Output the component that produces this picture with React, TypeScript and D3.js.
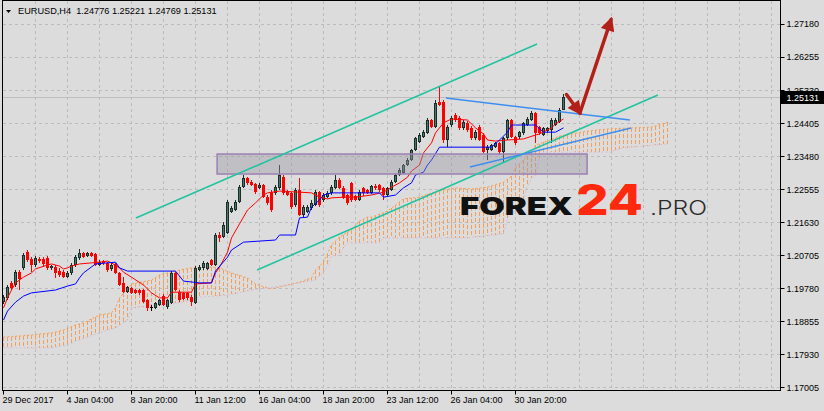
import * as d3 from 'd3';
import React from 'react';

const width = 824;
const height = 411;

const header = 'EURUSD,H4  1.24776 1.25221 1.24769 1.25131';
const lastPrice = 1.25131;

const priceTicks = [1.2718, 1.26255, 1.2533, 1.24405, 1.2348, 1.22555, 1.2163, 1.20705, 1.1978, 1.18855, 1.1793, 1.17005];
const timeLabels = ['29 Dec 2017', '4 Jan 04:00', '8 Jan 20:00', '11 Jan 12:00', '16 Jan 04:00', '18 Jan 20:00', '23 Jan 12:00', '26 Jan 04:00', '30 Jan 20:00'];
const timeLabelBars = [0, 16, 32, 48, 64, 80, 96, 112, 128];

// H4 bars: [open, high, low, close]
const ohlc: number[][] = [
	[1.1940, 1.1960, 1.1935, 1.1954], [1.1952, 1.1988, 1.1946, 1.1982], [1.1994, 1.1999, 1.1974, 1.1980], [1.1988, 1.2030, 1.1982, 1.2024],
	[1.2024, 1.2030, 1.1974, 1.2005], [1.2036, 1.2078, 1.2030, 1.2072], [1.2080, 1.2086, 1.2052, 1.2058], [1.2061, 1.2066, 1.2024, 1.2044],
	[1.2044, 1.2069, 1.2038, 1.2064], [1.2061, 1.2066, 1.2050, 1.2055], [1.2061, 1.2066, 1.2038, 1.2047], [1.2064, 1.2069, 1.2030, 1.2036],
	[1.2036, 1.2044, 1.2030, 1.2041], [1.2038, 1.2044, 1.2008, 1.2022], [1.2027, 1.2036, 1.2010, 1.2016], [1.2024, 1.2030, 1.2008, 1.2010],
	[1.2010, 1.2027, 1.2008, 1.2022], [1.2022, 1.2050, 1.2016, 1.2044], [1.2044, 1.2072, 1.2038, 1.2066], [1.2064, 1.2089, 1.2058, 1.2078],
	[1.2078, 1.2080, 1.2064, 1.2066], [1.2069, 1.2080, 1.2066, 1.2078], [1.2078, 1.2080, 1.2066, 1.2069], [1.2075, 1.2078, 1.2041, 1.2044],
	[1.2044, 1.2058, 1.2041, 1.2052], [1.2055, 1.2058, 1.2044, 1.2050], [1.2050, 1.2052, 1.2024, 1.2030], [1.2033, 1.2050, 1.2027, 1.2044],
	[1.2047, 1.2050, 1.2019, 1.2022], [1.2022, 1.2024, 1.1985, 1.1988], [1.1994, 1.2010, 1.1966, 1.1968], [1.1968, 1.1985, 1.1966, 1.1982],
	[1.1980, 1.1982, 1.1963, 1.1966], [1.1974, 1.1977, 1.1963, 1.1966], [1.1974, 1.1977, 1.1960, 1.1966], [1.1974, 1.1977, 1.1938, 1.1940],
	[1.1946, 1.1949, 1.1915, 1.1924], [1.1924, 1.1932, 1.1915, 1.1924], [1.1924, 1.1940, 1.1921, 1.1938], [1.1932, 1.1949, 1.1929, 1.1946],
	[1.1957, 1.1963, 1.1929, 1.1932], [1.1926, 1.1949, 1.1921, 1.1946], [1.1938, 1.2027, 1.1935, 1.2022], [1.2022, 1.2024, 1.1971, 1.1974],
	[1.1968, 1.1974, 1.1940, 1.1946], [1.1966, 1.1968, 1.1946, 1.1949], [1.1966, 1.1968, 1.1946, 1.1952], [1.1954, 1.1960, 1.1929, 1.1940],
	[1.1938, 1.2041, 1.1935, 1.2036], [1.2030, 1.2044, 1.2027, 1.2038], [1.2036, 1.2055, 1.2030, 1.2050], [1.2033, 1.2052, 1.2030, 1.2050],
	[1.2058, 1.2061, 1.2041, 1.2044], [1.2044, 1.2134, 1.2041, 1.2128], [1.2128, 1.2136, 1.2108, 1.2120], [1.2122, 1.2164, 1.2120, 1.2156],
	[1.2133, 1.2226, 1.2131, 1.2220], [1.2192, 1.2209, 1.2190, 1.2204], [1.2198, 1.2226, 1.2195, 1.2220], [1.2220, 1.2268, 1.2218, 1.2262],
	[1.2262, 1.2296, 1.2260, 1.2288], [1.2288, 1.2290, 1.2268, 1.2274], [1.2276, 1.2282, 1.2265, 1.2268], [1.2271, 1.2274, 1.2243, 1.2248],
	[1.2260, 1.2274, 1.2257, 1.2268], [1.2268, 1.2271, 1.2232, 1.2234], [1.2234, 1.2240, 1.2212, 1.2218], [1.2248, 1.2254, 1.2192, 1.2198],
	[1.2246, 1.2268, 1.2240, 1.2262], [1.2260, 1.2324, 1.2254, 1.2296], [1.2290, 1.2296, 1.2240, 1.2246], [1.2248, 1.2254, 1.2237, 1.2240],
	[1.2246, 1.2248, 1.2201, 1.2206], [1.2212, 1.2260, 1.2206, 1.2254], [1.2254, 1.2288, 1.2181, 1.2184], [1.2184, 1.2212, 1.2178, 1.2206],
	[1.2192, 1.2212, 1.2190, 1.2206], [1.2204, 1.2226, 1.2198, 1.2218], [1.2212, 1.2254, 1.2209, 1.2248], [1.2248, 1.2251, 1.2206, 1.2212],
	[1.2226, 1.2246, 1.2220, 1.2240], [1.2234, 1.2251, 1.2232, 1.2246], [1.2246, 1.2268, 1.2240, 1.2262], [1.2260, 1.2296, 1.2257, 1.2282],
	[1.2282, 1.2288, 1.2257, 1.2260], [1.2260, 1.2265, 1.2229, 1.2232], [1.2240, 1.2243, 1.2212, 1.2218], [1.2274, 1.2276, 1.2220, 1.2226],
	[1.2237, 1.2240, 1.2223, 1.2226], [1.2226, 1.2254, 1.2223, 1.2248], [1.2260, 1.2262, 1.2237, 1.2246], [1.2254, 1.2257, 1.2243, 1.2246],
	[1.2246, 1.2268, 1.2243, 1.2265], [1.2265, 1.2271, 1.2254, 1.2260], [1.2268, 1.2271, 1.2248, 1.2254], [1.2260, 1.2262, 1.2226, 1.2240],
	[1.2240, 1.2262, 1.2237, 1.2260], [1.2254, 1.2282, 1.2251, 1.2276], [1.2276, 1.2299, 1.2274, 1.2296], [1.2296, 1.2316, 1.2293, 1.2310],
	[1.2302, 1.2327, 1.2299, 1.2324], [1.2324, 1.2344, 1.2321, 1.2338], [1.2338, 1.2369, 1.2335, 1.2366], [1.2366, 1.2402, 1.2363, 1.2400],
	[1.2388, 1.2414, 1.2386, 1.2408], [1.2402, 1.2422, 1.2400, 1.2416], [1.2414, 1.2456, 1.2411, 1.2450], [1.2450, 1.2453, 1.2428, 1.2430],
	[1.2430, 1.2506, 1.2428, 1.2498], [1.2500, 1.2542, 1.2489, 1.2492], [1.2500, 1.2506, 1.2386, 1.2394], [1.2394, 1.2436, 1.2374, 1.2430],
	[1.2436, 1.2461, 1.2430, 1.2456], [1.2464, 1.2470, 1.2444, 1.2450], [1.2456, 1.2461, 1.2422, 1.2428], [1.2428, 1.2450, 1.2422, 1.2444],
	[1.2442, 1.2447, 1.2416, 1.2422], [1.2428, 1.2433, 1.2394, 1.2400], [1.2400, 1.2422, 1.2394, 1.2416], [1.2430, 1.2436, 1.2391, 1.2394],
	[1.2408, 1.2414, 1.2358, 1.2360], [1.2366, 1.2380, 1.2338, 1.2374], [1.2366, 1.2383, 1.2363, 1.2380], [1.2374, 1.2388, 1.2372, 1.2386],
	[1.2386, 1.2388, 1.2352, 1.2360], [1.2360, 1.2402, 1.2332, 1.2400], [1.2400, 1.2453, 1.2394, 1.2450], [1.2450, 1.2453, 1.2400, 1.2402],
	[1.2402, 1.2405, 1.2380, 1.2386], [1.2402, 1.2419, 1.2397, 1.2416], [1.2414, 1.2444, 1.2408, 1.2442], [1.2436, 1.2458, 1.2433, 1.2453],
	[1.2450, 1.2475, 1.2447, 1.2470], [1.2470, 1.2472, 1.2386, 1.2414], [1.2430, 1.2433, 1.2408, 1.2414], [1.2408, 1.2430, 1.2405, 1.2428],
	[1.2419, 1.2430, 1.2414, 1.2428], [1.2422, 1.2456, 1.2386, 1.2450], [1.2436, 1.2456, 1.2433, 1.2450], [1.2444, 1.2484, 1.2442, 1.2478],
	[1.24776, 1.25221, 1.24769, 1.25131],
];

// Ichimoku lines read as [bar, price] vertices
const tenkan: number[][] = [
	[0, 1.1924], [1, 1.1952], [2, 1.1974], [3, 1.1994], [5, 1.2010], [7, 1.2022], [8, 1.2033], [11, 1.2044], [12, 1.2047], [14, 1.2041],
	[15, 1.2033], [16, 1.2036], [17, 1.2041], [19, 1.2047], [22, 1.2050], [24, 1.2052], [26, 1.2055], [27, 1.2050], [29, 1.2036], [30, 1.2024],
	[32, 1.2010], [35, 1.1988], [37, 1.1966], [39, 1.1952], [41, 1.1952], [42, 1.1968], [47, 1.1968], [48, 1.1991], [52, 1.1994], [53, 1.2022],
	[54, 1.2038], [56, 1.2080], [57, 1.2120], [59, 1.2159], [61, 1.2198], [63, 1.2218], [65, 1.2240], [66, 1.2246], [69, 1.2251], [74, 1.2248],
	[77, 1.2246], [79, 1.2234], [81, 1.2229], [82, 1.2232], [85, 1.2234], [88, 1.2234], [92, 1.2240], [95, 1.2248], [97, 1.2262], [99, 1.2274],
	[101, 1.2290], [102, 1.2307], [104, 1.2324], [105, 1.2358], [107, 1.2386], [108, 1.2414], [110, 1.2442], [112, 1.2453], [116, 1.2450],
	[117, 1.2439], [118, 1.2428], [120, 1.2411], [121, 1.2394], [123, 1.2391], [126, 1.2394], [130, 1.2397], [133, 1.2408], [134, 1.2411],
	[137, 1.2428], [138, 1.2439], [140, 1.2453],
];
const kijun: number[][] = [
	[0, 1.1890], [1, 1.1915], [3, 1.1940], [5, 1.1957], [7, 1.1966], [13, 1.1974], [16, 1.1985], [18, 1.1991], [19, 1.2008], [20, 1.2022],
	[23, 1.2047], [28, 1.2052], [29, 1.2036], [31, 1.2027], [43, 1.2027], [45, 1.1999], [49, 1.1994], [52, 1.1994], [53, 1.2027], [56, 1.2066],
	[57, 1.2086], [60, 1.2108], [68, 1.2114], [69, 1.2128], [73, 1.2128], [74, 1.2176], [76, 1.2178], [77, 1.2206], [79, 1.2226], [80, 1.2240],
	[82, 1.2246], [94, 1.2246], [95, 1.2234], [98, 1.2240], [100, 1.2260], [102, 1.2274], [103, 1.2296], [105, 1.2304], [106, 1.2324],
	[107, 1.2338], [109, 1.2374], [122, 1.2374], [124, 1.2394], [126, 1.2416], [127, 1.2436], [133, 1.2436], [135, 1.2416], [138, 1.2416],
	[140, 1.2428],
];
const spanA: number[][] = [
	[0, 1.1842], [7, 1.1848], [12, 1.1854], [15, 1.1862], [18, 1.1876], [20, 1.1882], [24, 1.1904], [27, 1.1910], [28, 1.1924], [29, 1.1952],
	[31, 1.1977], [32, 1.1991], [37, 1.2002], [39, 1.2016], [44, 1.2030], [47, 1.2036], [52, 1.2038], [54, 1.2036], [57, 1.2022], [61, 1.2008],
	[63, 1.1991], [66, 1.1980], [67, 1.1977], [70, 1.1985], [74, 1.1996], [77, 1.2008], [78, 1.2030], [80, 1.2052], [82, 1.2100], [84, 1.2122],
	[87, 1.2142], [89, 1.2167], [91, 1.2178], [92, 1.2178], [96, 1.2195], [98, 1.2212], [100, 1.2229], [104, 1.2234], [107, 1.2246],
	[110, 1.2254], [113, 1.2260], [117, 1.2257], [121, 1.2262], [125, 1.2276], [127, 1.2293], [128, 1.2316], [130, 1.2338], [132, 1.2360],
	[133, 1.2380], [136, 1.2391], [139, 1.2405], [142, 1.2411], [146, 1.2419], [151, 1.2425], [157, 1.2428], [162, 1.2430], [166, 1.2444],
];
const spanB: number[][] = [
	[0, 1.1812], [12, 1.1812], [16, 1.1820], [19, 1.1834], [24, 1.1854], [28, 1.1868], [31, 1.1890], [32, 1.1924], [34, 1.1926], [39, 1.1932],
	[44, 1.1938], [49, 1.1954], [56, 1.1960], [59, 1.1966], [62, 1.1974], [66, 1.1980], [74, 1.1994], [78, 1.2002], [80, 1.2024], [81, 1.2041],
	[82, 1.2069], [84, 1.2072], [85, 1.2092], [86, 1.2106], [94, 1.2106], [95, 1.2120], [116, 1.2120], [120, 1.2125], [125, 1.2131],
	[126, 1.2176], [128, 1.2198], [129, 1.2220], [130, 1.2226], [131, 1.2265], [132, 1.2288], [133, 1.2293], [134, 1.2344], [135, 1.2360],
	[152, 1.2360], [153, 1.2366], [155, 1.2372], [157, 1.2374], [166, 1.2383],
];

// drawn objects, [bar, price]
const channelUpper = [[33.1, 1.21756], [133.4, 1.26628]];
const channelLower = [[63.4, 1.203], [163.6, 1.252]];
const wedgeUpper = [[110.6, 1.25116], [156.6, 1.245]];
const wedgeLower = [[116.6, 1.23184], [156.9, 1.24276]];
const zoneBars = [53.4, 145.9];
const zonePrices = [1.23548, 1.22988];
const arrowUp = [[144.1, 1.24696], [151.9, 1.27314]];
const arrowDown = [[140.75, 1.25214], [144.1, 1.24696]];

const frame = { left: 2.5, right: 780.5, top: 0.5, bottom: 390.5 };
const bg = '#dcdcdc';
const axisFont = '"Liberation Sans", Arial, sans-serif';
const logoFont = "Inter, 'Open Sans', sans-serif";

export default function App() {
	const x = d3.scaleLinear().domain([0, 140]).range([3.5, 563.5]);
	const y = d3.scaleLinear().domain([1.17005, 1.2718]).range([387.7, 24.3]);
	const snap = (v: number) => Math.round(v - 0.5) + 0.5;

	const line = d3
		.line<number[]>()
		.x(d => x(d[0]))
		.y(d => y(d[1]));

	const aAt = d3.scaleLinear().domain(spanA.map(d => d[0])).range(spanA.map(d => d[1])).clamp(true);
	const bAt = d3.scaleLinear().domain(spanB.map(d => d[0])).range(spanB.map(d => d[1])).clamp(true);
	const cloudBars = d3.range(0, 167);
	const vGrid = d3.range(8, 194, 8);

	const seg = (p: number[][]) => ({ x1: x(p[0][0]), y1: y(p[0][1]), x2: x(p[1][0]), y2: y(p[1][1]) });

	return (
		<div style={{ position: 'fixed', left: 0, top: 0 }}>
			<svg width={width} height={height} style={{ display: 'block', background: bg }}>
				<defs>
					<marker id="head" viewBox="0 0 10 10" refX="8" refY="5" markerUnits="userSpaceOnUse" markerWidth="17" markerHeight="14" orient="auto">
						<path d="M0,0 L10,5 L0,10 z" fill="#b32019" />
					</marker>
				</defs>
				<rect width={width} height={height} fill={bg} />

				{/* grid */}
				<g stroke="#bcbcbc" strokeDasharray="3,3" strokeWidth={1} shapeRendering="crispEdges">
					{priceTicks.map(t => (
						<line key={t} x1={frame.left} x2={frame.right} y1={snap(y(t))} y2={snap(y(t))} />
					))}
					{vGrid.map(b => (
						<line key={b} x1={x(b)} x2={x(b)} y1={frame.top} y2={frame.bottom} />
					))}
				</g>

				{/* ichimoku cloud */}
				<g strokeWidth={1} strokeDasharray="4,2" shapeRendering="crispEdges">
					{cloudBars.map(i => {
						const a = aAt(i);
						const b = bAt(i);
						return (
							<line key={i} x1={x(i)} x2={x(i)} y1={Math.round(y(a))} y2={Math.round(y(b))} stroke={a >= b ? '#f2a05a' : '#d8bfd8'} />
						);
					})}
				</g>
				<path d={line(spanB) || ''} fill="none" stroke="#d8bfd8" strokeWidth={1} strokeDasharray="2,2" />
				<path d={line(spanA) || ''} fill="none" stroke="#f2a05a" strokeWidth={1} strokeDasharray="2,2" />

				{/* bid line */}
				<line x1={frame.left} x2={frame.right} y1={snap(y(lastPrice))} y2={snap(y(lastPrice))} stroke="#bdbdbd" shapeRendering="crispEdges" />

				{/* candles */}
				<g shapeRendering="crispEdges">
					{ohlc.map((d, i) => {
						const [o, h, l, c] = d;
						const cx = x(i);
						const up = c > o;
						const doji = c === o;
						const top = y(Math.max(o, c));
						const bh = Math.max(1, Math.abs(y(o) - y(c)));
						const wick = up ? '#1c2c27' : doji ? '#000' : '#ff0000';
						return (
							<g key={i}>
								<line x1={cx} x2={cx} y1={y(h)} y2={y(l)} stroke={wick} strokeWidth={1} />
								{doji ? (
									<line x1={cx - 1.5} x2={cx + 1.5} y1={snap(top)} y2={snap(top)} stroke="#000" />
								) : up ? (
									<rect x={cx - 1} y={top + 0.5} width={2} height={Math.max(0.5, bh - 1)} fill="#46786a" stroke="#1c2c27" strokeWidth={1} />
								) : (
									<rect x={cx - 1.5} y={top} width={3} height={bh} fill="#ff0000" />
								)}
							</g>
						);
					})}
				</g>

				{/* tenkan / kijun */}
				<path d={line(tenkan) || ''} fill="none" stroke="#ff0000" strokeWidth={1} />
				<path d={line(kijun) || ''} fill="none" stroke="#0000ff" strokeWidth={1} />

				{/* support zone */}
				<rect
					x={x(zoneBars[0])}
					y={y(zonePrices[0])}
					width={x(zoneBars[1]) - x(zoneBars[0])}
					height={y(zonePrices[1]) - y(zonePrices[0])}
					fill="rgba(150,150,162,0.42)"
					stroke="#9c80b4"
					strokeWidth={1.5}
				/>

				{/* trend lines */}
				<g stroke="#22c3a0" strokeWidth={1.6}>
					<line {...seg(channelUpper)} />
					<line {...seg(channelLower)} />
				</g>
				<g stroke="#3d8ef0" strokeWidth={1.5}>
					<line {...seg(wedgeUpper)} />
					<line {...seg(wedgeLower)} />
				</g>

				{/* arrows */}
				<g stroke="#b32019" strokeWidth={3.5} strokeLinecap="round">
					<line {...seg(arrowUp)} markerEnd="url(#head)" />
					<line {...seg(arrowDown)} markerEnd="url(#head)" />
				</g>

				{/* watermark */}
				<g>
					<text x={460} y={215} fontFamily={logoFont} fontWeight={900} fontSize={25} fill="#111" textLength={113} lengthAdjust="spacingAndGlyphs">
						FOREX
					</text>
					<text x={576} y={215} fontFamily={logoFont} fontWeight={800} fontSize={43} fill="#ff2a0d" textLength={67} lengthAdjust="spacingAndGlyphs">
						24
					</text>
					<text x={650} y={215} fontFamily={logoFont} fontWeight={300} fontSize={20} fill="#2c2c2c" textLength={57} lengthAdjust="spacingAndGlyphs">
						.PRO
					</text>
				</g>

				{/* frame */}
				<rect x={frame.left} y={frame.top} width={frame.right - frame.left} height={frame.bottom - frame.top} fill="none" stroke="#000" strokeWidth={1} />

				{/* price axis */}
				<g fontFamily={axisFont} fontSize={9} fill="#000">
					{priceTicks.map(t => (
						<g key={t}>
							<line x1={frame.right} x2={frame.right + 4} y1={snap(y(t))} y2={snap(y(t))} stroke="#000" />
							<text x={786.5} y={y(t)} dy="0.35em">
								{t.toFixed(5)}
							</text>
						</g>
					))}
					<rect x={781} y={y(lastPrice) - 6.5} width={43} height={13} fill="#000" />
					<text x={786.5} y={y(lastPrice)} dy="0.35em" fill="#fff">
						{lastPrice.toFixed(5)}
					</text>
				</g>

				{/* time axis */}
				<g fontFamily={axisFont} fontSize={9} fill="#000">
					{timeLabels.map((t, i) => {
						const tx = Math.max(frame.left, x(timeLabelBars[i]) - 0.5) + 0.5;
						return (
							<g key={t}>
								<line x1={snap(tx)} x2={snap(tx)} y1={frame.bottom} y2={frame.bottom + 4} stroke="#000" />
								<text x={tx - 1} y={403}>
									{t}
								</text>
							</g>
						);
					})}
				</g>

				{/* header */}
				<polygon points="6,10 11,10 8.5,13" fill="#000" />
				<text x={18} y={13.5} fontFamily={axisFont} fontSize={9.2} fill="#000" style={{ whiteSpace: 'pre' }}>
					{header}
				</text>
			</svg>
		</div>
	);
}
